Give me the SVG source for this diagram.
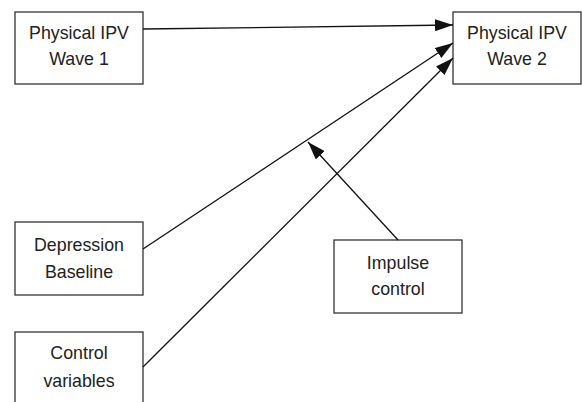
<svg xmlns="http://www.w3.org/2000/svg" width="582" height="402" viewBox="0 0 582 402">
<style>
.box{fill:#fff;stroke:#333;stroke-width:1.3}
.lbl{font-family:"Liberation Sans",Arial,sans-serif;font-size:17.8px;fill:#222;text-anchor:middle}
.edge{stroke:#111;stroke-width:1.3;fill:none;marker-end:url(#ah)}
</style>
<defs>
<marker id="ah" viewBox="0 0 18 12" refX="18" refY="6" markerWidth="18" markerHeight="12" markerUnits="userSpaceOnUse" orient="auto">
<path d="M0,0 L18,6 L0,12 z" fill="#111"/>
</marker>
</defs>
<rect width="582" height="402" fill="#fff"/>
<g id="n1"><rect class="box" x="15" y="12" width="128" height="72"/><text class="lbl" x="79" y="39">Physical IPV</text><text class="lbl" x="79" y="65">Wave 1</text></g>
<g id="n2"><rect class="box" x="453" y="12" width="128" height="72"/><text class="lbl" x="517" y="39">Physical IPV</text><text class="lbl" x="517" y="65">Wave 2</text></g>
<g id="n3"><rect class="box" x="15" y="222" width="128" height="73"/><text class="lbl" x="79" y="251">Depression</text><text class="lbl" x="79" y="277.5">Baseline</text></g>
<g id="n4"><rect class="box" x="334" y="240" width="128" height="73"/><text class="lbl" x="398" y="269">Impulse</text><text class="lbl" x="398" y="295">control</text></g>
<g id="n5"><rect class="box" x="15" y="332" width="128" height="80"/><text class="lbl" x="79" y="359">Control</text><text class="lbl" x="79" y="386.5">variables</text></g>
<g id="edges">
<line class="edge" x1="143" y1="29" x2="453" y2="25"/>
<line class="edge" x1="143" y1="249" x2="453" y2="43"/>
<line class="edge" x1="143" y1="367" x2="453" y2="58"/>
<line class="edge" x1="398" y1="240" x2="308" y2="142"/>
</g>
</svg>
